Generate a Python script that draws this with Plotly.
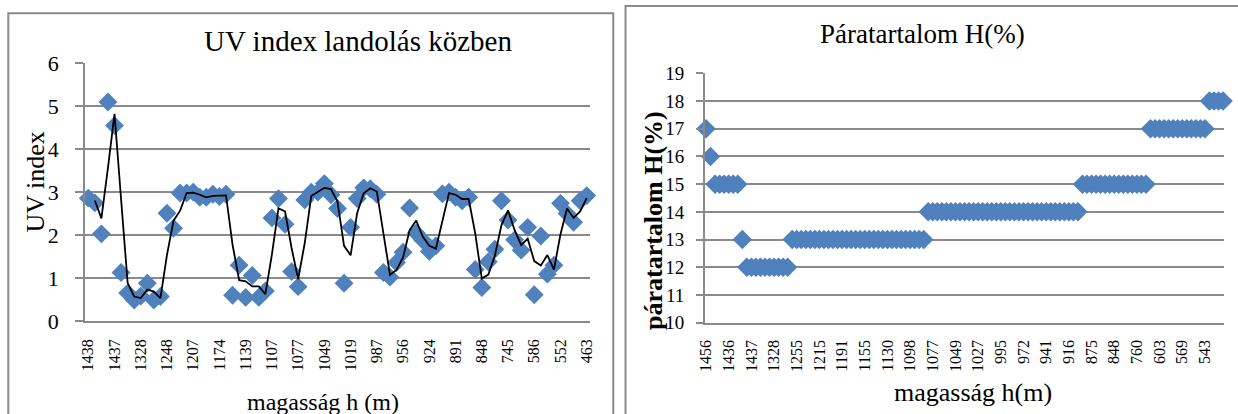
import pandas as pd
import plotly.graph_objects as go

W, H = 1238, 414

# UV index logged during the landing (one value per sample, highest altitude first)
uv_index = [2.86, 2.75, 2.03, 5.1, 4.55, 1.13, 0.65, 0.49, 0.58, 0.88,
            0.49, 0.57, 2.51, 2.16, 2.98, 2.98, 3.0, 2.88, 2.88, 2.95,
            2.9, 2.95, 0.6, 1.3, 0.55, 1.06, 0.55, 0.7, 2.4, 2.85,
            2.25, 1.15, 0.8, 2.82, 3.0, 3.0, 3.2, 2.94, 2.62, 0.88,
            2.18, 2.85, 3.1, 3.08, 2.95, 1.13, 1.02, 1.36, 1.6, 2.63,
            2.05, 1.88, 1.62, 1.75, 2.96, 3.0, 2.88, 2.8, 2.88, 1.2,
            0.78, 1.38, 1.67, 2.8, 2.35, 1.89, 1.65, 2.18, 0.61, 1.98,
            1.09, 1.3, 2.74, 2.5, 2.3, 2.8, 2.92]

# altitude labels shown on the UV chart's category axis (every 4th sample)
uv_altitude_labels = ["1438", "1437", "1328", "1248", "1207", "1174", "1139",
                      "1107", "1077", "1049", "1019", "987", "956", "924",
                      "891", "848", "745", "586", "552", "463"]
uv_label_step = 4

# relative humidity H(%) logged during the landing
humidity = [17, 16, 15, 15, 15, 15, 15, 15, 13, 12,
            12, 12, 12, 12, 12, 12, 12, 12, 12, 13,
            13, 13, 13, 13, 13, 13, 13, 13, 13, 13,
            13, 13, 13, 13, 13, 13, 13, 13, 13, 13,
            13, 13, 13, 13, 13, 13, 13, 13, 13, 14,
            14, 14, 14, 14, 14, 14, 14, 14, 14, 14,
            14, 14, 14, 14, 14, 14, 14, 14, 14, 14,
            14, 14, 14, 14, 14, 14, 14, 14, 14, 14,
            14, 14, 14, 15, 15, 15, 15, 15, 15, 15,
            15, 15, 15, 15, 15, 15, 15, 15, 17, 17,
            17, 17, 17, 17, 17, 17, 17, 17, 17, 17,
            17, 18, 18, 18, 18]

# altitude labels shown on the humidity chart's category axis (every 5th sample)
humidity_altitude_labels = ["1456", "1436", "1437", "1328", "1255", "1215",
                            "1191", "1155", "1130", "1098", "1077", "1049",
                            "1027", "995", "972", "941", "916", "875", "848",
                            "760", "603", "569", "543"]
humidity_label_step = 5

BLUE = "#4F81BD"
GRID = "#8a8a8a"
FONT = "Liberation Serif, Times New Roman, serif"

uv_x = list(range(len(uv_index)))
uv_trend = pd.Series(uv_index).rolling(2).mean()   # 2-period moving average
hum_x = list(range(len(humidity)))


def px_x(p):
    return p / W


def px_y(p):
    return 1 - p / H


fig = go.Figure()
fig.add_trace(go.Scatter(
    x=uv_x, y=uv_index, mode="markers", xaxis="x", yaxis="y",
    marker=dict(symbol="diamond", size=14.5, color=BLUE, line=dict(width=0)),
    cliponaxis=False))
fig.add_trace(go.Scatter(
    x=uv_x[1:], y=list(uv_trend[1:]), mode="lines", xaxis="x", yaxis="y",
    line=dict(color="black", width=1.8)))
fig.add_trace(go.Scatter(
    x=hum_x, y=humidity, mode="markers", xaxis="x2", yaxis="y2",
    marker=dict(symbol="diamond", size=15, color=BLUE, line=dict(width=0)),
    cliponaxis=False))

common_x = dict(showgrid=False, zeroline=False, showline=True, linecolor=GRID,
                linewidth=1.8, ticks="", tickangle=-90, tickmode="array",
                automargin=False,
                tickfont=dict(family=FONT, size=16, color="black"))
common_y = dict(showgrid=True, gridcolor=GRID, gridwidth=1.8, zeroline=False,
                showline=True, linecolor=GRID, linewidth=1.8, ticks="outside",
                tickcolor=GRID, tickwidth=1.8, dtick=1, automargin=False)

fig.update_layout(
    width=W, height=H, margin=dict(l=0, r=0, t=0, b=0, pad=0, autoexpand=False),
    paper_bgcolor="white", plot_bgcolor="white", showlegend=False,
    font=dict(family=FONT, color="black"),
    xaxis=dict(common_x, domain=[px_x(85), px_x(590)], range=[-0.5, 76.5],
               tickvals=uv_x[::uv_label_step], ticktext=uv_altitude_labels,
               anchor="y", ticklabelstandoff=10),
    yaxis=dict(common_y, domain=[px_y(321), px_y(63.3)], range=[0, 6],
               ticklen=8, anchor="x", ticklabelstandoff=12,
               tickfont=dict(family=FONT, size=22, color="black")),
    xaxis2=dict(common_x, domain=[px_x(705), px_x(1224)], range=[-0.22, 114.2],
                tickvals=hum_x[::humidity_label_step],
                ticktext=humidity_altitude_labels,
                anchor="y2", ticklabelstandoff=9),
    yaxis2=dict(common_y, domain=[px_y(322.7), px_y(73.3)], range=[10, 19],
                ticklen=7, anchor="x2", ticklabelstandoff=8,
                tickfont=dict(family=FONT, size=19, color="black")),
)

annotations = [
    dict(text="UV index landolás közben", x=px_x(358), y=px_y(41), size=29, angle=0),
    dict(text="UV index", x=px_x(35), y=px_y(182.5), size=26, angle=-90),
    dict(text="magasság h (m)", x=px_x(323), y=px_y(402), size=24, angle=0),
    dict(text="Páratartalom H(%)", x=px_x(922), y=px_y(34), size=27, angle=0),
    dict(text="<b>páratartalom H(%)</b>", x=px_x(653), y=px_y(221), size=26, angle=-90),
    dict(text="magasság h(m)", x=px_x(973), y=px_y(392), size=26, angle=0),
]
for a in annotations:
    fig.add_annotation(text=a["text"], x=a["x"], y=a["y"], xref="paper", yref="paper",
                       xanchor="center", yanchor="middle", showarrow=False,
                       textangle=a["angle"],
                       font=dict(family=FONT, size=a["size"], color="black"))

# chart-area frames
fig.add_shape(type="rect", xref="paper", yref="paper",
              x0=px_x(8.3), x1=px_x(613.3), y0=-0.2, y1=px_y(13.3),
              line=dict(color=GRID, width=2), layer="below")
fig.add_shape(type="rect", xref="paper", yref="paper",
              x0=px_x(625.5), x1=1.05, y0=-0.2, y1=px_y(6),
              line=dict(color=GRID, width=2), layer="below")

fig.write_html("out.html")
